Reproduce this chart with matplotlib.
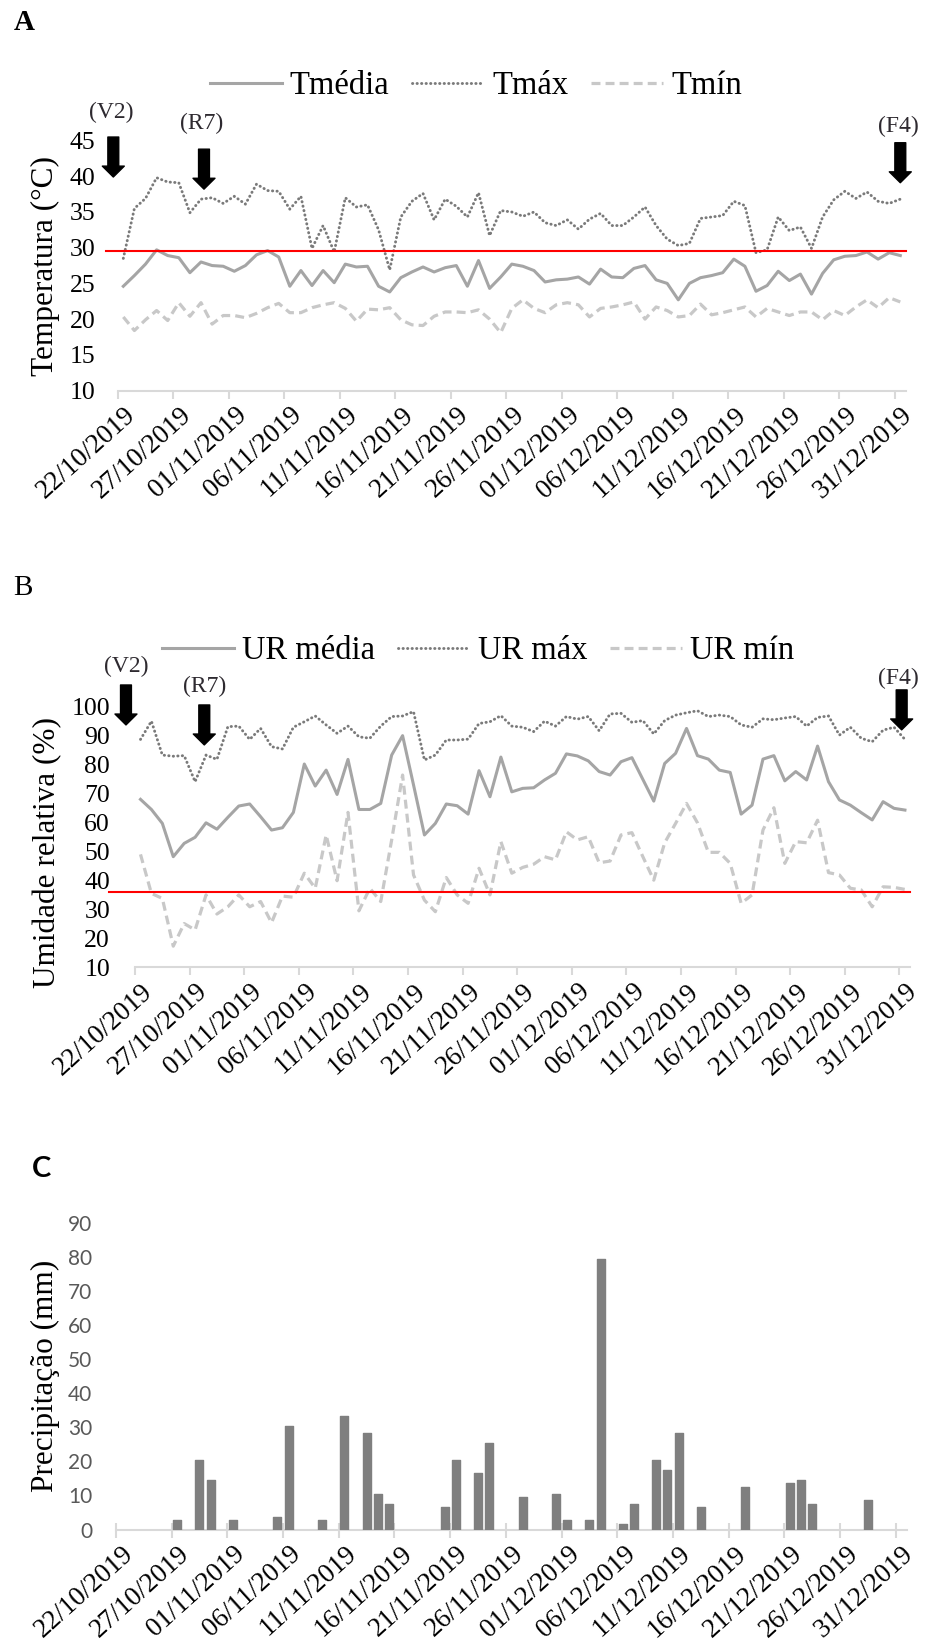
import matplotlib
matplotlib.use('Agg')
import matplotlib.pyplot as plt
import matplotlib.transforms as mtransforms
import numpy as np
import pandas as pd

# ---------------- data ----------------
dates = pd.date_range('2019-10-22', '2019-12-31', freq='D')
date_labels = [d.strftime('%d/%m/%Y') for d in dates]

T_media = [24.6, 26.1, 27.7, 29.7, 28.9, 28.6, 26.5, 28.0, 27.5, 27.4,
           26.7, 27.5, 29.0, 29.6, 28.7, 24.6, 26.8, 24.7, 26.8, 25.1,
           27.7, 27.3, 27.4, 24.6, 23.8, 25.8, 26.6, 27.3, 26.6, 27.2,
           27.5, 24.6, 28.2, 24.3, 25.9, 27.7, 27.4, 26.8, 25.2, 25.5,
           25.6, 25.9, 24.9, 27.0, 25.9, 25.8, 27.1, 27.5, 25.5, 25.0,
           22.7, 25.0, 25.8, 26.1, 26.5, 28.4, 27.4, 23.9, 24.7, 26.7,
           25.4, 26.3, 23.5, 26.4, 28.3, 28.8, 28.9, 29.4, 28.4, 29.3, 28.9]
T_max = [28.5, 35.5, 36.9, 39.8, 39.2, 39.1, 34.9, 36.8, 37.0, 36.2,
         37.2, 36.1, 38.9, 38.0, 37.9, 35.4, 37.2, 29.9, 33.1, 29.4,
         37.0, 35.7, 36.0, 32.5, 26.9, 34.3, 36.5, 37.6, 33.9, 36.8,
         35.8, 34.3, 37.7, 31.7, 35.2, 35.0, 34.4, 35.0, 33.5, 33.1,
         33.9, 32.6, 34.0, 34.8, 33.1, 33.1, 34.3, 35.7, 33.1, 31.2,
         30.3, 30.6, 34.1, 34.3, 34.5, 36.5, 35.9, 29.3, 29.7, 34.3,
         32.4, 32.9, 29.9, 34.3, 36.7, 37.9, 36.9, 37.8, 36.5, 36.2, 36.8]
T_min = [20.3, 18.4, 19.9, 21.2, 19.8, 22.3, 20.4, 22.3, 19.3, 20.5,
         20.5, 20.2, 20.8, 21.6, 22.2, 20.9, 20.9, 21.6, 22.0, 22.3,
         21.5, 19.7, 21.4, 21.3, 21.6, 19.9, 19.2, 19.1, 20.4, 21.0,
         21.0, 20.9, 21.3, 20.0, 18.1, 21.5, 22.7, 21.5, 20.9, 22.0,
         22.3, 22.0, 20.3, 21.5, 21.7, 22.0, 22.4, 20.0, 21.7, 21.2,
         20.3, 20.5, 22.1, 20.6, 20.9, 21.3, 21.7, 20.3, 21.5, 21.0,
         20.5, 21.0, 21.0, 19.9, 21.2, 20.5, 21.7, 22.7, 21.6, 23.0, 22.4]

UR_media = [68.0, 64.5, 59.7, 48.2, 52.8, 54.9, 59.9, 57.7, 61.8, 65.7,
            66.4, 62.0, 57.4, 58.2, 63.5, 80.2, 72.6, 78.1, 69.7, 81.8,
            64.5, 64.5, 66.6, 83.3, 90.0, 73.0, 55.7, 59.7, 66.4, 65.8,
            62.9, 77.9, 68.9, 82.6, 70.6, 71.8, 72.0, 74.7, 77.0, 83.7,
            83.0, 81.3, 77.6, 76.4, 81.0, 82.4, 74.9, 67.4, 80.4, 83.9,
            92.5, 83.1, 81.9, 78.1, 77.3, 62.9, 66.0, 81.9, 83.1, 74.4,
            77.6, 74.7, 86.4, 74.1, 67.8, 66.0, 63.4, 60.9, 67.2, 64.9, 64.3]
UR_max = [88.7, 95.0, 83.3, 82.9, 83.1, 74.1, 83.3, 81.8, 93.1, 93.3,
          88.7, 92.5, 86.2, 85.4, 92.9, 94.8, 96.8, 93.7, 90.8, 93.3,
          89.6, 89.1, 93.3, 96.6, 96.8, 98.3, 81.6, 83.3, 88.5, 88.5,
          88.8, 94.2, 94.8, 96.9, 93.3, 92.9, 91.4, 95.0, 93.3, 96.6,
          95.7, 96.6, 91.7, 97.5, 97.7, 94.6, 95.2, 90.6, 95.2, 97.1,
          97.9, 98.6, 96.6, 97.1, 96.6, 93.7, 92.9, 95.8, 95.5, 96.1,
          96.6, 93.3, 96.3, 96.8, 90.2, 92.9, 89.1, 87.9, 91.9, 92.9, 88.7]
UR_min = [49.0, 35.5, 33.8, 17.3, 25.1, 22.9, 35.0, 28.4, 30.9, 35.0,
          30.9, 32.7, 25.4, 34.6, 34.2, 42.5, 37.3, 55.7, 39.9, 63.5,
          29.5, 37.3, 32.7, 54.0, 76.4, 41.9, 33.2, 29.2, 41.0, 35.0,
          32.1, 44.2, 35.0, 53.4, 42.5, 44.5, 45.6, 48.2, 47.1, 56.8,
          54.0, 55.1, 46.1, 46.7, 55.7, 56.5, 48.2, 40.1, 53.0, 59.7,
          66.6, 59.9, 49.7, 49.7, 45.9, 32.1, 35.0, 57.4, 65.1, 45.9,
          53.4, 53.0, 60.8, 42.7, 41.9, 37.3, 36.7, 30.9, 37.8, 37.6, 36.9]

precip_dates = ['27/10/2019', '29/10/2019', '30/10/2019', '01/11/2019', '05/11/2019',
                '06/11/2019', '09/11/2019', '11/11/2019', '13/11/2019', '14/11/2019',
                '15/11/2019', '20/11/2019', '21/11/2019', '23/11/2019', '24/11/2019',
                '27/11/2019', '30/11/2019', '01/12/2019', '03/12/2019', '04/12/2019',
                '06/12/2019', '07/12/2019', '09/12/2019', '10/12/2019', '11/12/2019',
                '13/12/2019', '17/12/2019', '21/12/2019', '22/12/2019', '23/12/2019',
                '28/12/2019']
precip_mm = [2.7, 20.5, 14.6, 2.7, 3.7, 30.5, 2.7, 33.5, 28.5, 10.5,
             7.6, 6.6, 20.5, 16.6, 25.5, 9.6, 10.5, 2.7, 2.7, 79.5,
             1.7, 7.6, 20.5, 17.6, 28.5, 6.6, 12.6, 13.6, 14.6, 7.6, 8.6]

T_limit = 29.6
UR_limit = 36

phases = ['(V2)', '(R7)', '(F4)']

# ---------------- layout ----------------
W, H = 928, 1650
fig = plt.figure(figsize=(W / 100, H / 100), dpi=100)
SERIF = ['Liberation Serif', 'DejaVu Serif']
SANS = ['Lato', 'DejaVu Sans']
AXC = '#D9D9D9'


def fx(px):
    return px / W


def fy(py):
    return 1 - py / H


def add_axes(l, r, t, b):
    return fig.add_axes([fx(l), fy(b), fx(r) - fx(l), fy(t) - fy(b)])


x = np.arange(len(dates))
major = x[::5]


def style(ax, ylim, yticks, ypad, tick_dir='out', tick_len=6, ycolor='black',
          yfamily=SERIF, ysize=18.5):
    ax.set_xlim(-0.5, 70.5)
    ax.set_ylim(*ylim)
    for s in ['left', 'right', 'top']:
        ax.spines[s].set_visible(False)
    ax.spines['bottom'].set_color(AXC)
    ax.spines['bottom'].set_linewidth(1.5)
    ax.set_xticks(major)
    ax.set_xticklabels([date_labels[i] for i in major], rotation=42, ha='right',
                       va='center', rotation_mode='anchor', family=SERIF, fontsize=19.5)
    ax.tick_params(axis='x', which='major', length=0, pad=15)
    ax.set_xticks(major - 0.5, minor=True)
    ax.tick_params(axis='x', which='minor', length=tick_len, width=1.5, color=AXC,
                   direction=tick_dir)
    off = mtransforms.ScaledTranslation(9 / 100, 0, fig.dpi_scale_trans)
    for lab in ax.get_xticklabels():
        lab.set_transform(lab.get_transform() + off)
    ax.set_yticks(yticks)
    ax.tick_params(axis='y', length=0, pad=ypad, labelsize=ysize, labelcolor=ycolor)
    for lab in ax.get_yticklabels():
        lab.set_family(yfamily)


def arrow(ax, xp, ytop, ybot):
    ax.annotate('', xy=(xp, ybot), xytext=(xp, ytop), annotation_clip=False,
                arrowprops=dict(arrowstyle='simple,head_length=0.56,head_width=1.13,tail_width=0.56',
                                fc='black', ec='black', mutation_scale=14,
                                shrinkA=0, shrinkB=0))


def phase_text(ax, xp, yp, s):
    ax.text(xp, yp, s, ha='center', va='center', family=SERIF, fontsize=17,
            color='#2e2a30', clip_on=False)


c_med, c_max, c_min = '#A5A5A5', '#7A7A7A', '#C8C8C8'
dot_style = (0, (0.1, 1.45))
dash_style = (0, (2.8, 1.6))

# ---------------- Panel A ----------------
axA = add_axes(117.75, 905.85, 140.6, 390.5)
style(axA, (10, 45), np.arange(10, 46, 5), ypad=16)
axA.plot(x, T_media, color=c_med, lw=2.2, label='Tmédia', solid_joinstyle='round')
axA.plot(x, T_max, color=c_max, lw=2.1, linestyle=dot_style,
         dash_capstyle='round', label='Tmáx')
axA.plot(x, T_min, color=c_min, lw=2.3, linestyle=dash_style, label='Tmín')
axA.plot([-1.56, 70.5], [T_limit, T_limit], color='red', lw=1.5, clip_on=False, zorder=5)
axA.legend(loc='center', bbox_to_anchor=(fx(476), fy(86)), bbox_transform=fig.transFigure,
           ncol=3, frameon=False, prop=dict(family=SERIF, size=23.5),
           handlelength=2.2, handletextpad=0.25, columnspacing=0.7)
arrow(axA, -0.9, 45.5, 39.9)
arrow(axA, 7.27, 43.8, 38.2)
arrow(axA, 70.0, 44.7, 39.1)
phase_text(axA, -1.05, 49.0, phases[0])
phase_text(axA, 7.06, 47.4, phases[1])
phase_text(axA, 69.8, 47.0, phases[2])
fig.text(fx(45.7), fy(266), 'Temperatura (°C)', rotation=90, ha='center', va='center',
         family=SERIF, fontsize=22.5)
fig.text(fx(24.7), fy(23), 'A', ha='center', va='center', family=SERIF,
         fontsize=21, fontweight='bold')

# ---------------- Panel B ----------------
axB = add_axes(135.04, 910.4, 706.7, 967.3)
style(axB, (10, 100), np.arange(10, 101, 10), ypad=18)
axB.plot(x, UR_media, color=c_med, lw=2.2, label='UR média', solid_joinstyle='round')
axB.plot(x, UR_max, color=c_max, lw=2.1, linestyle=dot_style,
         dash_capstyle='round', label='UR máx')
axB.plot(x, UR_min, color=c_min, lw=2.3, linestyle=dash_style, label='UR mín')
axB.plot([-2.9, 70.5], [UR_limit, UR_limit], color='red', lw=1.5, clip_on=False, zorder=5)
axB.legend(loc='center', bbox_to_anchor=(fx(478), fy(651)), bbox_transform=fig.transFigure,
           ncol=3, frameon=False, prop=dict(family=SERIF, size=23.5),
           handlelength=2.2, handletextpad=0.25, columnspacing=0.7)
arrow(axB, -1.33, 107.5, 93.7)
arrow(axB, 5.84, 100.6, 86.8)
arrow(axB, 69.7, 105.8, 92.0)
phase_text(axB, -1.33, 113.8, phases[0])
phase_text(axB, 5.9, 106.9, phases[1])
phase_text(axB, 69.4, 109.8, phases[2])
fig.text(fx(48), fy(852), 'Umidade relativa (%)', rotation=90, ha='center', va='center',
         family=SERIF, fontsize=22.5)
fig.text(fx(22.5), fy(588), 'B', ha='center', va='center', family=SERIF, fontsize=21)

# ---------------- Panel C ----------------
axC = add_axes(115.9, 906.9, 1223.3, 1529.5)
style(axC, (0, 90), np.arange(0, 91, 10), ypad=17, tick_dir='inout', tick_len=10.8,
      ycolor='#595959', yfamily=SANS, ysize=15)
pidx = [date_labels.index(d) for d in precip_dates]
axC.bar(pidx, precip_mm, width=0.72, color='#7F7F7F', edgecolor='#7F7F7F',
        linewidth=1.0, joinstyle='round', zorder=3)
fig.text(fx(45), fy(1376), 'Precipitação (mm)', rotation=90, ha='center', va='center',
         family=SERIF, fontsize=22.5)
fig.text(fx(41.5), fy(1169), 'C', ha='center', va='center', family=SANS, fontsize=21,
         fontweight='bold')

fig.savefig('out.png', dpi=100)
